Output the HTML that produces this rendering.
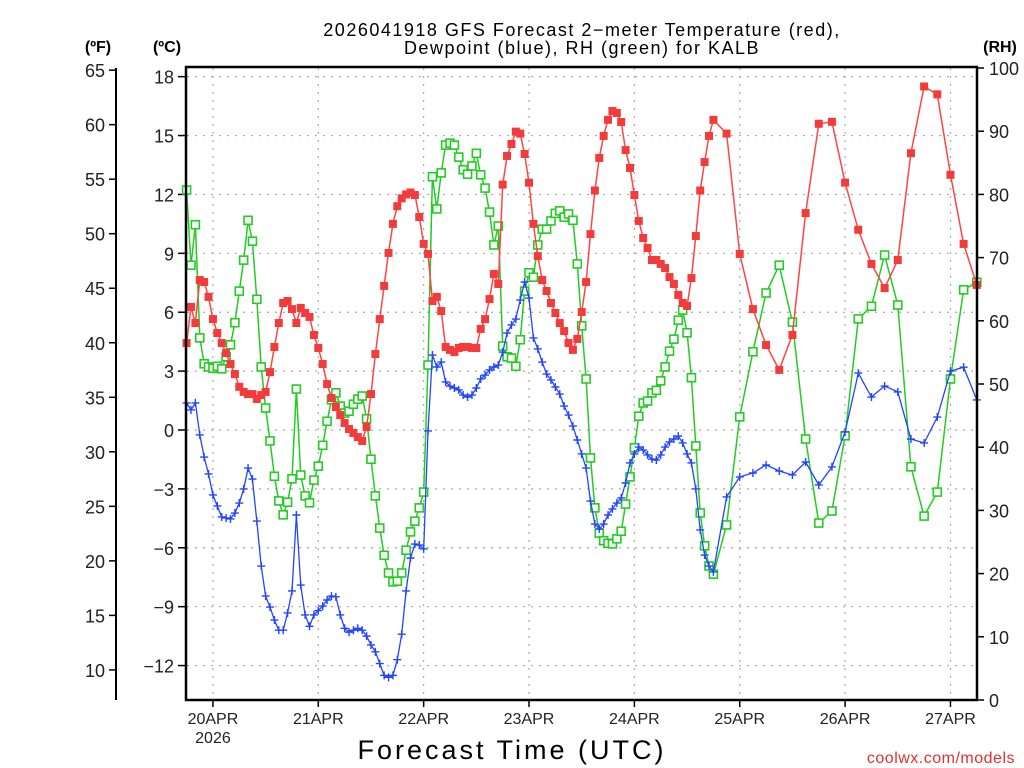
<!DOCTYPE html>
<html><head><meta charset="utf-8"><style>
body{margin:0;background:#fff;}
svg{display:block;font-family:"Liberation Sans",sans-serif;}
</style></head><body>
<svg id="chart" width="1024" height="768" viewBox="0 0 1024 768" xmlns="http://www.w3.org/2000/svg">
<text x="582" y="36" font-size="18" letter-spacing="1.5" text-anchor="middle" fill="#000">2026041918 GFS Forecast 2−meter Temperature (red),</text>
<text x="582" y="54" font-size="18" letter-spacing="1.5" text-anchor="middle" fill="#000">Dewpoint (blue), RH (green) for KALB</text>
<text x="98" y="52" font-size="16" font-weight="bold" text-anchor="middle">(ºF)</text>
<text x="167" y="52" font-size="16" font-weight="bold" text-anchor="middle">(ºC)</text>
<text x="1000" y="52" font-size="16" font-weight="bold" text-anchor="middle">(RH)</text>
<text x="512" y="759" font-size="27" text-anchor="middle" letter-spacing="3">Forecast Time (UTC)</text>
<text x="1015" y="763" font-size="16" text-anchor="end" fill="#e03030" letter-spacing="0.5">coolwx.com/models</text>
<g id="grid"></g>
<g id="axes"></g>
<g id="series"></g>
<rect x="186" y="67" width="791" height="633" fill="none" stroke="#000" stroke-width="2.5"/>
</svg>
<script>
const hours=[0,1,2,3,4,5,6,7,8,9,10,11,12,13,14,15,16,17,18,19,20,21,22,23,24,25,26,27,28,29,30,31,32,33,34,35,36,37,38,39,40,41,42,43,44,45,46,47,48,49,50,51,52,53,54,55,56,57,58,59,60,61,62,63,64,65,66,67,68,69,70,71,72,73,74,75,76,77,78,79,80,81,82,83,84,85,86,87,88,89,90,91,92,93,94,95,96,97,98,99,100,101,102,103,104,105,106,107,108,109,110,111,112,113,114,115,116,117,118,119,120,123,126,129,132,135,138,141,144,147,150,153,156,159,162,165,168,171,174,177,180];
const tempC=[4.43,6.27,5.45,7.64,7.54,6.78,5.65,4.94,4.43,3.92,3.36,2.85,2.2,1.94,1.83,1.83,1.58,1.78,1.94,2.95,4.23,5.45,6.47,6.57,6.16,5.45,6.22,5.96,5.76,4.84,4.18,3.36,2.34,1.63,1.17,0.76,0.36,0.05,-0.15,-0.36,-0.56,0.15,1.83,3.87,5.65,7.34,9.02,10.5,11.4,11.8,12.0,12.1,11.97,10.85,9.48,8.97,6.57,6.78,6.06,4.23,4.08,3.97,4.18,4.23,4.23,4.18,4.18,5.15,5.65,6.67,7.95,7.44,12.5,13.96,14.57,15.2,15.1,14.06,12.6,10.5,8.86,7.64,7.08,6.47,5.96,5.45,5.04,4.43,4.08,4.64,6.01,7.54,9.98,12.2,13.86,14.98,15.8,16.25,16.15,15.69,14.26,13.35,11.97,10.65,9.78,9.27,8.66,8.66,8.46,8.25,7.79,7.44,6.88,6.47,6.32,7.74,9.88,12.2,13.65,14.98,15.8,15.1,8.97,6.16,4.33,3.06,4.84,11.05,15.6,15.7,12.6,10.2,8.46,7.23,8.66,14.1,17.5,17.1,13.0,9.48,7.39];
const dewC=[1.38,1.02,1.38,-0.25,-1.38,-2.24,-3.31,-3.87,-4.43,-4.48,-4.53,-4.23,-3.72,-3.0,-1.94,-2.5,-4.64,-6.93,-8.46,-9.02,-9.68,-10.2,-10.2,-9.32,-8.2,-4.33,-7.9,-9.42,-10.0,-9.42,-9.2,-8.97,-8.66,-8.46,-8.5,-9.42,-10.1,-10.3,-10.2,-10.1,-10.2,-10.5,-10.95,-11.3,-11.9,-12.5,-12.6,-12.5,-11.7,-10.4,-8.2,-6.52,-5.81,-5.86,-6.06,-0.05,3.82,3.21,3.46,2.45,2.24,2.14,2.04,1.78,1.68,1.78,2.14,2.6,2.8,3.06,3.21,3.31,3.97,4.94,5.35,5.65,6.62,7.54,6.72,4.69,4.13,3.46,2.85,2.55,2.19,1.83,1.22,0.76,0.2,-0.51,-1.22,-1.94,-3.62,-4.79,-5.04,-4.79,-4.33,-4.02,-3.72,-3.46,-2.7,-1.68,-1.22,-0.87,-1.02,-1.27,-1.48,-1.53,-1.27,-0.87,-0.61,-0.46,-0.31,-0.66,-1.22,-1.68,-3.0,-5.09,-6.37,-6.93,-7.23,-3.41,-2.39,-2.19,-1.78,-2.09,-2.29,-1.63,-2.8,-1.88,-0.1,2.9,1.68,2.24,1.94,-0.46,-0.66,0.66,3.0,3.2,1.53];
const rhPct=[80.7,68.8,75.2,57.3,53.2,52.7,52.5,52.8,52.4,54.3,56.2,59.7,64.7,69.6,75.9,72.6,63.4,52.7,46.2,41,35.4,31.5,29.3,31.3,35,49.2,35.6,32.3,31.2,34.8,37,40.3,44.1,47.5,48.6,46.5,45.4,45.7,46.8,47.6,48.1,44.5,38.1,32.3,27.2,22.9,20.1,18.7,18.8,20.1,23.7,26.6,28.3,30.4,32.9,53,82.8,77.7,83.4,87.8,88.1,87.8,85.9,83.9,83.2,84.5,86.5,83.1,81,77.2,72,75,56,54.3,54.1,52.8,57,64.7,67.6,66.9,72,74.5,74.5,75.8,77,77.4,76.4,76.9,75.9,69,59.2,50.8,38.3,30.4,26.4,25.2,24.8,24.7,25.5,26.7,31,35.3,39.9,44.9,47,47.3,48.6,49,50.5,52.7,55.2,57.1,60.1,61.7,58.1,51,40.2,29.6,24.4,21.2,19.9,27.7,44.8,55.1,64.4,68.8,59.8,41.3,28.0,29.9,41.8,60.3,62.3,70.4,62.5,36.9,29.1,32.9,50.8,64.9,66.1];
const dayLabels=["20APR","21APR","22APR","23APR","24APR","25APR","26APR","27APR"];
const dayHours=[6,30,54,78,102,126,150,174];
const cTicks=[-12,-9,-6,-3,0,3,6,9,12,15,18];
const fTicks=[10,15,20,25,30,35,40,45,50,55,60,65];
const rhTicks=[0,10,20,30,40,50,60,70,80,90,100];

const NS="http://www.w3.org/2000/svg";
const X0=186.6,X1=976.8,HMAX=180;
function xS(h){return X0+h*(X1-X0)/HMAX;}
function yC(t){return 430-t*19.63;}
function yF(f){return yC((f-32)*5/9);}
function yR(r){return 700-r*6.32;}
function mk(tag,attrs,parent){const e=document.createElementNS(NS,tag);for(const k in attrs)e.setAttribute(k,attrs[k]);parent.appendChild(e);return e;}
const grid=document.getElementById('grid'),axes=document.getElementById('axes'),series=document.getElementById('series');

dayHours.forEach((h,i)=>{
  const x=xS(h);
  const gl=mk('line',{x1:x,y1:68,x2:x,y2:700,stroke:'#aaa','stroke-width':1.2,'stroke-dasharray':'2,6'},grid);
  
  
  const tk=mk('line',{x1:x,y1:700,x2:x,y2:707,stroke:'#000','stroke-width':1.5},axes);
  
  
  const t=mk('text',{x:x,y:724,'font-size':16,'text-anchor':'middle',fill:'#222'},axes);
  t.textContent=dayLabels[i];
  
  
});
const yr=mk('text',{x:xS(dayHours[0]),y:743,'font-size':16,'text-anchor':'middle',fill:'#222'},axes);
yr.textContent='2026';



cTicks.forEach(c=>{
  const y=yC(c);
  const gl=mk('line',{x1:187,y1:y,x2:976,y2:y,stroke:'#aaa','stroke-width':1.2,'stroke-dasharray':'2,6'},grid);
  
  
  const tk=mk('line',{x1:178,y1:y,x2:186,y2:y,stroke:'#000','stroke-width':1.5},axes);
  
  
  const t=mk('text',{x:174,y:y+7,'font-size':18,'text-anchor':'end',fill:'#222'},axes);
  t.textContent=c<0?('−'+Math.abs(c)):String(c);
  
  
});
const fl=mk('line',{x1:116,y1:68,x2:116,y2:700,stroke:'#000','stroke-width':2},axes);


fTicks.forEach(f=>{
  const y=yF(f);
  const tk=mk('line',{x1:109,y1:y,x2:116,y2:y,stroke:'#000','stroke-width':1.5},axes);
  
  
  const t=mk('text',{x:105,y:y+7,'font-size':18,'text-anchor':'end',fill:'#222'},axes);
  t.textContent=String(f);
  
  
});
rhTicks.forEach(r=>{
  const y=yR(r);
  const tk=mk('line',{x1:977,y1:y,x2:984,y2:y,stroke:'#000','stroke-width':1.5},axes);
  
  
  const t=mk('text',{x:989,y:y+7,'font-size':18,'text-anchor':'start',fill:'#222'},axes);
  t.textContent=String(r);
  
  
});

function linePts(vals,yf){return vals.map((v,i)=>xS(hours[i]).toFixed(1)+','+yf(v).toFixed(1)).join(' ');}
const gLine=mk('polyline',{points:linePts(rhPct,yR),fill:'none',stroke:'#22cc22','stroke-width':1.5},series);


rhPct.forEach((v,i)=>{
  const m=mk('rect',{x:xS(hours[i])-4,y:yR(v)-4,width:8,height:8,fill:'#fff',stroke:'#22cc22','stroke-width':1.6},series);
  
  
});
const rLine=mk('polyline',{points:linePts(tempC,yC),fill:'none',stroke:'#ff4444','stroke-width':1.5},series);


tempC.forEach((v,i)=>{
  const m=mk('rect',{x:xS(hours[i])-4,y:yC(v)-4,width:8,height:8,fill:'#f23c3c'},series);
  
  
});
const bLine=mk('polyline',{points:linePts(dewC,yC),fill:'none',stroke:'#2244ff','stroke-width':1.3},series);


dewC.forEach((v,i)=>{
  const x=xS(hours[i]),y=yC(v);
  const m=mk('path',{d:`M${x-4},${y}H${x+4}M${x},${y-4}V${y+4}`,stroke:'#2244ff','stroke-width':1.4,fill:'none'},series);
  
  
});
</script>
</body></html>
